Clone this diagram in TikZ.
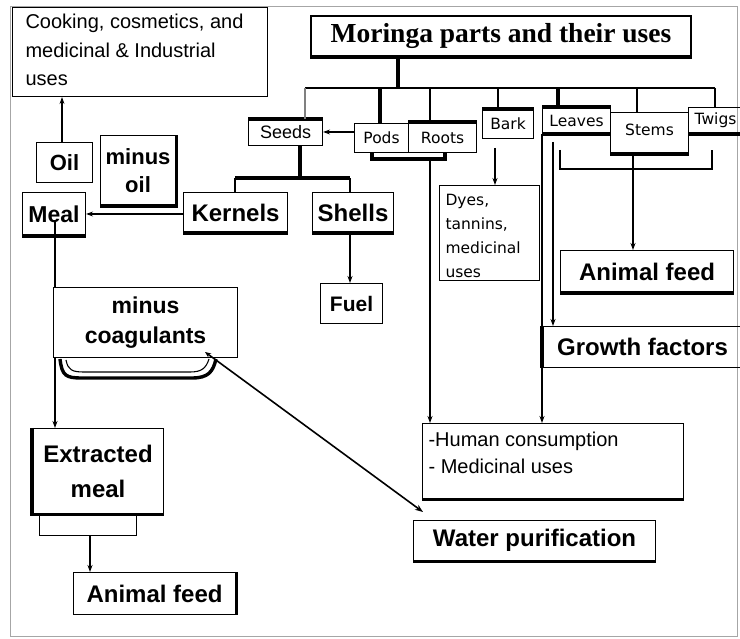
\documentclass[tikz,border=0pt]{standalone}
\usepackage{fontspec}
\setmainfont{Liberation Sans}
\newfontfamily\serf{Liberation Serif}
\newfontfamily\dvs{DejaVu Sans}
\usetikzlibrary{arrows.meta}
\newcommand\fsz[2]{\fontsize{#1}{#2}\selectfont}
\begin{document}
\begin{tikzpicture}[x=1pt,y=-1pt,
  bx/.style={draw, line width=1.1pt, inner sep=0pt, anchor=north west},
  bld/.style={font=\bfseries\fsz{23}{28}, align=center},
  sml/.style={font=\dvs\fsz{15.5}{18}},
  arr/.style={-{Stealth[length=7pt,width=5pt]}},
  ln/.style={line width=1.1pt},
  tk/.style={line width=3.2pt}]
\useasboundingbox (0,0) rectangle (740,639);
\clip (0,0) rectangle (740,639);
\fill[white] (0,0) rectangle (740,639);
\draw[gray!70, line width=1pt] (10,7) rectangle (737,636);

% top
\node[bx, line width=2pt, minimum width=380pt, minimum height=40pt, font=\serf\bfseries\fsz{27.5}{30}] (title) at (310,15) {Moringa parts and their uses};
\node[bx, minimum width=255pt, minimum height=89pt] (cook) at (12,7)
  {\parbox[b][89pt][t]{255pt}{\leftskip=13pt\fsz{20}{28.5}\rule{0pt}{21pt}Cooking, cosmetics, and\\medicinal \& Industrial\\uses}};

% parts
\node[bx, minimum width=74pt, minimum height=26pt, font=\fsz{18}{20}] (seeds) at (248,119) {Seeds};
\node[bx, minimum width=54pt, minimum height=29pt, sml] (pods) at (354,123) {Pods};
\node[bx, minimum width=68pt, minimum height=30pt, sml] (roots) at (408,122) {Roots};
\node[bx, minimum width=51pt, minimum height=29pt, sml] (bark) at (482,109) {Bark};
\node[bx, minimum width=68pt, minimum height=26pt, sml] (leaves) at (542,107) {Leaves};
\node[bx, minimum width=78pt, minimum height=41pt, sml] (stems) at (610,112) {\raisebox{6pt}{Stems}};
\node[bx, minimum width=60pt, minimum height=26pt, sml, anchor=north west] (twigs) at (688,107) {\hspace*{-6pt}\raisebox{-3pt}{Twigs}};

% products
\node[bx, minimum width=100pt, minimum height=95pt] (dyes) at (439,185)
  {\parbox[b][95pt][t]{100pt}{\leftskip=6pt\dvs\fsz{15.5}{24}\rule{0pt}{20pt}Dyes,\\tannins,\\medicinal\\uses}};
\node[bx, bld, minimum width=173pt, minimum height=42pt, font=\bfseries\fsz{24}{28}] (afR) at (560,250) {Animal feed};
\node[bx, bld, minimum width=200pt, minimum height=41pt, font=\bfseries\fsz{24}{28}] (growth) at (542,326) {Growth factors};
\node[bx, minimum width=261pt, minimum height=75pt] (human) at (422,423)
  {\parbox[b][75pt][t]{261pt}{\leftskip=6pt\fsz{20}{27}\rule{0pt}{23pt}-Human consumption\\- Medicinal uses}};
\node[bx, bld, minimum width=242pt, minimum height=40pt, font=\bfseries\fsz{24}{28}] (water) at (413,520) {Water purification};

% seed branch
\node[bx, bld, minimum width=56pt, minimum height=40pt, font=\bfseries\fsz{22}{26}] (oil) at (36,142) {Oil};
\node[bx, bld, minimum width=75pt, minimum height=70pt, font=\bfseries\fsz{22}{28}] (minusoil) at (100,135) {minus\\oil};
\node[bx, bld, minimum width=63pt, minimum height=43pt] (meal) at (22,192) {Meal};
\node[bx, bld, minimum width=104pt, minimum height=40pt, font=\bfseries\fsz{24}{28}] (kernels) at (183,192) {Kernels};
\node[bx, bld, minimum width=81pt, minimum height=40pt, font=\bfseries\fsz{24}{28}] (shells) at (312,192) {Shells};
\node[bx, bld, minimum width=62pt, minimum height=40pt, font=\bfseries\fsz{21}{26}] (fuel) at (320,283) {Fuel};
\node[bx, bld, minimum width=184pt, minimum height=70pt, font=\bfseries\fsz{23}{30}] (coag) at (53,287) {minus\\coagulants};
\node[bx, bld, minimum width=131pt, minimum height=85pt, font=\bfseries\fsz{24}{35}] (extr) at (32,428) {Extracted\\meal};
\node[bx, minimum width=97pt, minimum height=22pt] (sub) at (39,513) {};
\node[bx, bld, minimum width=162pt, minimum height=42pt, font=\bfseries\fsz{24}{28}] (afL) at (73,572) {Animal feed};

% heavy edges
\draw[line width=3.8pt] (title.south west) -- (title.south east);
\draw[tk] (seeds.north west) -- (seeds.north east);
\draw[tk] (roots.north west) -- (roots.north east);
\draw[tk] (bark.north west) -- (bark.north east);
\draw[tk] (leaves.north west) -- (leaves.north east);
\draw[tk] (leaves.south west) -- (leaves.south east);
\draw[tk] (stems.south west) -- (stems.south east);
\draw[tk] (twigs.south west) -- (twigs.south east);
\draw[tk] (meal.south west) -- (meal.south east);
\draw[tk] (kernels.south west) -- (kernels.south east);
\draw[tk] (shells.south west) -- (shells.south east);
\draw[tk] (minusoil.south west) -- (minusoil.south east) -- (minusoil.north east);
\draw[tk] (extr.north west) -- (extr.south west) -- (extr.south east);
\draw[tk] (human.south west) -- (human.south east);
\draw[tk] (water.south west) -- (water.south east);
\draw[tk] (afR.south west) -- (afR.south east);
\draw[tk] (growth.north west) -- (growth.south west);
\draw[tk] (afL.north east) -- (afL.south east);

% bus from title
\coordinate (bTop) at (398,88);
\coordinate (bS) at (305,88);
\coordinate (bP) at (380,88);
\coordinate (bR) at (430,88);
\coordinate (bB) at (498,88);
\coordinate (bL) at (558,88);
\coordinate (bSt) at (637,88);
\coordinate (bT) at (715,88);
\draw[tk] (bTop |- title.south) -- (bTop);
\draw[ln] (bS) -- (bT);
\draw[gray, ln] (bS) -- (bS |- seeds.north);
\draw[tk] (bP) -- (bP |- pods.north);
\draw[ln] (bR) -- (bR |- roots.north);
\draw[ln] (bB) -- (bB |- bark.north);
\draw[tk] (bL) -- (bL |- leaves.north);
\draw[ln] (bSt) -- (bSt |- stems.north);
\draw[ln] (bT) -- (bT |- twigs.north);

% pods -> seeds
\coordinate (ps) at (0,132);
\draw[ln, arr] (pods.west |- ps) -- (seeds.east |- ps);

% pods/roots bracket
\coordinate (prL) at (372,159);
\coordinate (prR) at (445,159);
\coordinate (prM) at (430,159);
\draw[tk] (prL |- pods.south) -- (prL) -- (prR) -- (prR |- roots.south);
\draw[ln, arr] (prM) -- (prM |- human.north);

% bark
\coordinate (bk) at (495,148);
\draw[ln, arr] (bk) -- (bk |- dyes.north);

% leaves
\draw[line width=2.6pt, arr] (leaves.south west) -- (leaves.south west |- human.north);
\coordinate (lv2) at (553,142);
\draw[line width=1.8pt, arr] (lv2) -- (lv2 |- growth.north);

% stems / twigs bracket
\coordinate (stL) at (560,150);
\coordinate (stR) at (712,150);
\coordinate (stM) at (633,169);
\draw[line width=2.4pt] (stL) -- (stL |- stM) -- (stR |- stM) -- (stR);
\draw[ln] (stM |- stems.south) -- (stM);
\draw[line width=2.2pt, arr] (stM) -- (stM |- afR.north);

% seeds bracket
\coordinate (sdM) at (300,178);
\coordinate (kx) at (235,178);
\coordinate (sx) at (350,178);
\draw[tk] (sdM |- seeds.south) -- (sdM);
\draw[tk] (kx) -- (sx);
\draw[ln] (kx) -- (kx |- kernels.north);
\draw[ln] (sx) -- (sx |- shells.north);
\draw[line width=2.4pt, arr] (sx |- shells.south) -- (sx |- fuel.north);

% kernels -> meal
\coordinate (km) at (0,214);
\draw[line width=2.4pt, arr] (kernels.west |- km) -- (meal.east |- km);

% oil -> cooking
\coordinate (ox) at (62,0);
\draw[ln, arr] (ox |- oil.north) -- (ox |- cook.south);

% meal -> coagulants -> extracted meal
\coordinate (mx) at (55,220);
\draw[ln] (mx) -- (mx |- coag.north);
\draw[ln, arr] (mx |- coag.south) -- (mx |- extr.north);
\draw[line width=3.4pt] (60,359) .. controls (62,376) and (66,378) .. (82,378) -- (192,378) .. controls (208,378) and (213,372) .. (216,359);
\draw[ln] (66,360) .. controls (68,370) and (72,372) .. (84,372) -- (190,372) .. controls (202,372) and (206,368) .. (209,359);

% extracted meal -> animal feed
\coordinate (ex) at (90,0);
\draw[ln, arr] (ex |- sub.south) -- (ex |- afL.north);

% coagulants -> water purification
\coordinate (cw) at (205,352);
\coordinate (wt) at (423,512);
\draw[line width=1.6pt, {Stealth[length=6pt,width=5pt]}-{Stealth[length=8pt,width=6pt]}] (cw) -- (wt);
\end{tikzpicture}
\end{document}
